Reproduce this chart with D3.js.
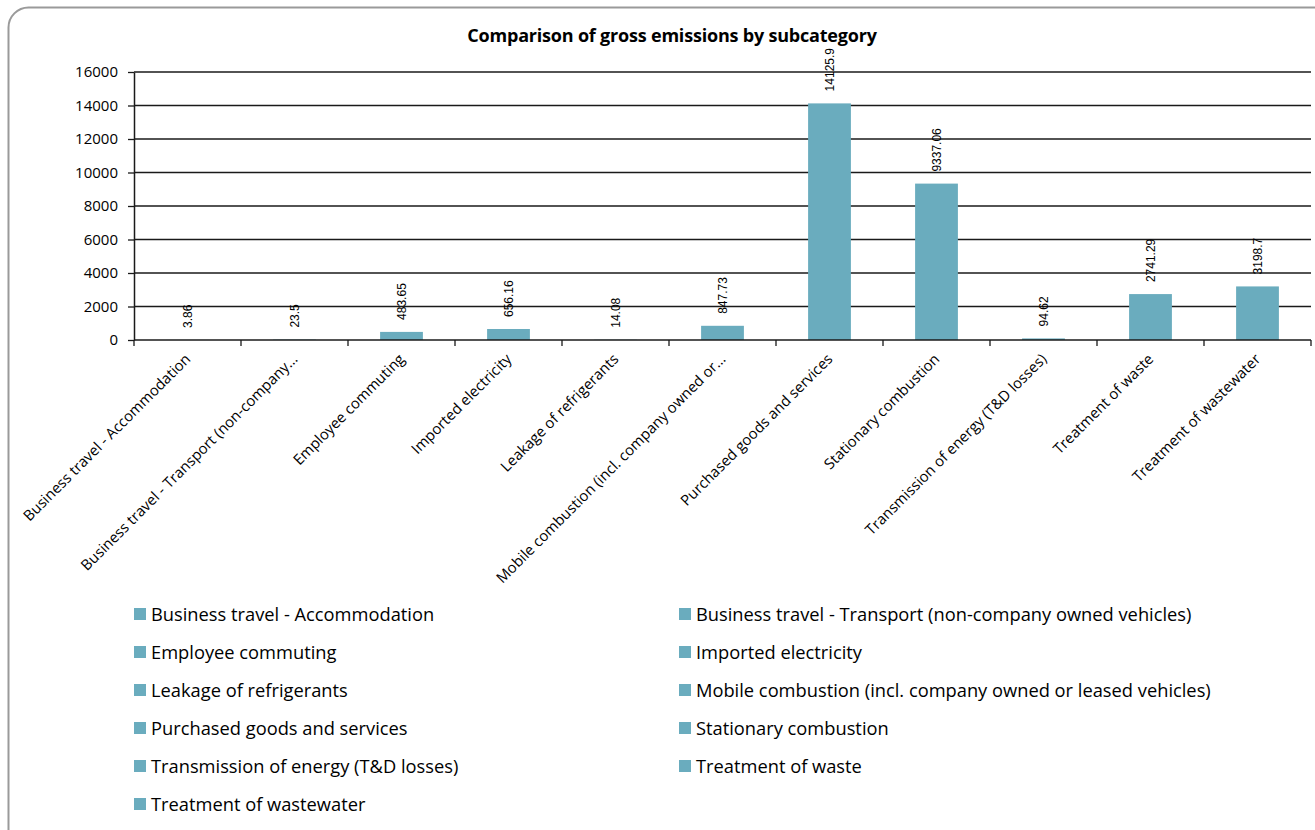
<!DOCTYPE html>
<html>
<head>
<meta charset="utf-8">
<script src="https://cdn.jsdelivr.net/npm/d3@7"></script>
<style>
  html, body { margin: 0; padding: 0; background: #fff; }
  svg { display: block; }
</style>
</head>
<body>
<svg id="chart" width="1315" height="830"></svg>
<script>
// Subcategories, their gross emissions and the axis labels shown for them
const categories = [
  "Business travel - Accommodation",
  "Business travel - Transport (non-company owned vehicles)",
  "Employee commuting",
  "Imported electricity",
  "Leakage of refrigerants",
  "Mobile combustion (incl. company owned or leased vehicles)",
  "Purchased goods and services",
  "Stationary combustion",
  "Transmission of energy (T&D losses)",
  "Treatment of waste",
  "Treatment of wastewater"
];
const values = [3.86, 23.5, 483.65, 656.16, 14.08, 847.73, 14125.9, 9337.06, 94.62, 2741.29, 3198.7];
const axisLabels = [
  "Business travel - Accommodation",
  "Business travel - Transport (non-company...",
  "Employee commuting",
  "Imported electricity",
  "Leakage of refrigerants",
  "Mobile combustion (incl. company owned or...",
  "Purchased goods and services",
  "Stationary combustion",
  "Transmission of energy (T&D losses)",
  "Treatment of waste",
  "Treatment of wastewater"
];
const yTicks = [0, 2000, 4000, 6000, 8000, 10000, 12000, 14000, 16000];
const title = "Comparison of gross emissions by subcategory";

const barColor = "#6aacbe";
const uiFont = "'Open Sans', Lato, sans-serif";
const numFont = "'Liberation Sans', Arial, sans-serif";

const svg = d3.select("#chart");

// Rounded chart frame
svg.append("rect")
  .attr("x", 8.5).attr("y", 7.5)
  .attr("width", 1330).attr("height", 850)
  .attr("rx", 20).attr("ry", 20)
  .attr("fill", "#fff")
  .attr("stroke", "#9a9a9a")
  .attr("stroke-width", 2);

const plot = { left: 134, right: 1311, top: 72, bottom: 340 };

const x = d3.scaleBand()
  .domain(categories)
  .range([plot.left, plot.right])
  .paddingInner(0.6)
  .paddingOuter(0.3);

const xEdges = d3.scaleLinear()
  .domain([0, categories.length])
  .range([plot.left, plot.right]);

const y = d3.scaleLinear()
  .domain([0, 16000])
  .range([plot.bottom, plot.top]);

// Title
svg.append("text")
  .attr("x", 672).attr("y", 42)
  .attr("text-anchor", "middle")
  .attr("font-family", uiFont)
  .attr("font-weight", "bold")
  .attr("font-size", 18)
  .attr("letter-spacing", -0.2)
  .attr("fill", "#000")
  .text(title);

// Horizontal gridlines
svg.append("g")
  .selectAll("line")
  .data(yTicks.filter(d => d > 0))
  .join("line")
  .attr("x1", plot.left).attr("x2", plot.right)
  .attr("y1", d => y(d)).attr("y2", d => y(d))
  .attr("stroke", "#1a1a1a")
  .attr("stroke-width", 1.3);

// Y axis
const yAxis = svg.append("g")
  .attr("transform", `translate(${plot.left},0)`)
  .call(d3.axisLeft(y).tickValues(yTicks).tickSize(6).tickSizeOuter(0).tickFormat(d3.format("d")));
yAxis.select(".domain").attr("stroke", "#1a1a1a").attr("stroke-width", 1.5);
yAxis.selectAll(".tick line").attr("stroke", "#1a1a1a").attr("stroke-width", 1.3);
yAxis.selectAll(".tick text")
  .attr("x", -16)
  .attr("font-family", uiFont)
  .attr("font-size", 15)
  .attr("fill", "#000");

// Bars
svg.append("g")
  .selectAll("rect")
  .data(categories)
  .join("rect")
  .attr("x", d => x(d))
  .attr("width", x.bandwidth())
  .attr("y", (d, i) => y(values[i]))
  .attr("height", (d, i) => plot.bottom - y(values[i]))
  .attr("fill", barColor);

// X axis line and category separator ticks
svg.append("line")
  .attr("x1", plot.left).attr("x2", plot.right)
  .attr("y1", plot.bottom).attr("y2", plot.bottom)
  .attr("stroke", "#1a1a1a").attr("stroke-width", 1.5);
svg.append("g")
  .selectAll("line")
  .data(d3.range(categories.length + 1))
  .join("line")
  .attr("x1", d => xEdges(d)).attr("x2", d => xEdges(d))
  .attr("y1", plot.bottom).attr("y2", plot.bottom + 6)
  .attr("stroke", "#1a1a1a").attr("stroke-width", 1.3);

// Rotated category labels
svg.append("g")
  .selectAll("text")
  .data(categories)
  .join("text")
  .attr("transform", d => `translate(${x(d) + x.bandwidth() / 2 + 4},${plot.bottom + 20}) rotate(-45)`)
  .attr("text-anchor", "end")
  .attr("font-family", uiFont)
  .attr("font-size", 14.8)
  .attr("fill", "#000")
  .text((d, i) => axisLabels[i]);

// Value labels above each bar, rotated vertically
svg.append("g")
  .selectAll("text")
  .data(categories)
  .join("text")
  .attr("transform", (d, i) => `translate(${x(d) + x.bandwidth() / 2 + 4},${y(values[i]) - 12}) rotate(-90)`)
  .attr("text-anchor", "start")
  .attr("font-family", numFont)
  .attr("font-size", 12)
  .attr("fill", "#000")
  .text((d, i) => values[i]);

// Legend, two columns
const legend = svg.append("g")
  .selectAll("g")
  .data(categories)
  .join("g")
  .attr("transform", (d, i) => `translate(${i % 2 === 0 ? 134 : 679},${614 + Math.floor(i / 2) * 38})`);
legend.append("rect")
  .attr("x", 0).attr("y", -6)
  .attr("width", 12).attr("height", 12)
  .attr("fill", barColor);
legend.append("text")
  .attr("x", 17).attr("y", 6.5)
  .attr("font-family", uiFont)
  .attr("font-size", 18.3)
  .attr("fill", "#000")
  .text(d => d);
</script>
</body>
</html>
